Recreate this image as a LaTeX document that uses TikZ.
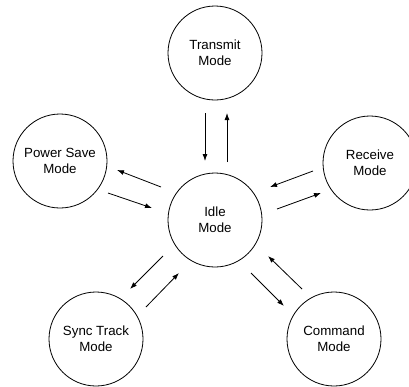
\documentclass[tikz,border=0pt]{standalone}
\usepackage{fontspec}
\setmainfont{Liberation Sans}
\usetikzlibrary{arrows.meta}
\begin{document}
\begin{tikzpicture}[x=1pt,y=-1pt,
  mode/.style={circle,draw,line width=0.8pt,minimum size=94pt,inner sep=0pt,
    align=center,font=\fontsize{13.3}{15.7}\selectfont},
  flow/.style={line width=0.8pt,-{Latex[length=7pt,width=5pt]}}]
\useasboundingbox (0,0) rectangle (409,386);
% states
\node[mode] (tx)   at (215,53)  {Transmit\\Mode};
\node[mode] (idle) at (215,220) {Idle\\Mode};
\node[mode] (ps)   at (60,161)  {Power Save\\Mode};
\node[mode] (rx)   at (370,163) {Receive\\Mode};
\node[mode] (sync) at (96,339)  {Sync Track\\Mode};
\node[mode] (cmd)  at (334,339) {Command\\Mode};
% arrow end points between the states
\coordinate (txA) at (205,113); \coordinate (idleA) at (205,161);
\coordinate (idleB) at (227,162); \coordinate (txB) at (227,113);
\coordinate (idleC) at (161,187); \coordinate (psC) at (117,170);
\coordinate (psD) at (108,193); \coordinate (idleD) at (152,208);
\coordinate (rxE) at (313,171); \coordinate (idleE) at (270,187);
\coordinate (idleF) at (277,209); \coordinate (rxF) at (321,193);
\coordinate (idleG) at (163,256); \coordinate (syncG) at (130,289);
\coordinate (syncH) at (146,307); \coordinate (idleH) at (179,273);
\coordinate (idleI) at (251,273); \coordinate (cmdI) at (284,306);
\coordinate (cmdJ) at (302,289); \coordinate (idleJ) at (268,256);
% transitions
\draw[flow] (txA) -- (idleA);
\draw[flow] (idleB) -- (txB);
\draw[flow] (idleC) -- (psC);
\draw[flow] (psD) -- (idleD);
\draw[flow] (rxE) -- (idleE);
\draw[flow] (idleF) -- (rxF);
\draw[flow] (idleG) -- (syncG);
\draw[flow] (syncH) -- (idleH);
\draw[flow] (idleI) -- (cmdI);
\draw[flow] (cmdJ) -- (idleJ);
\end{tikzpicture}
\end{document}
